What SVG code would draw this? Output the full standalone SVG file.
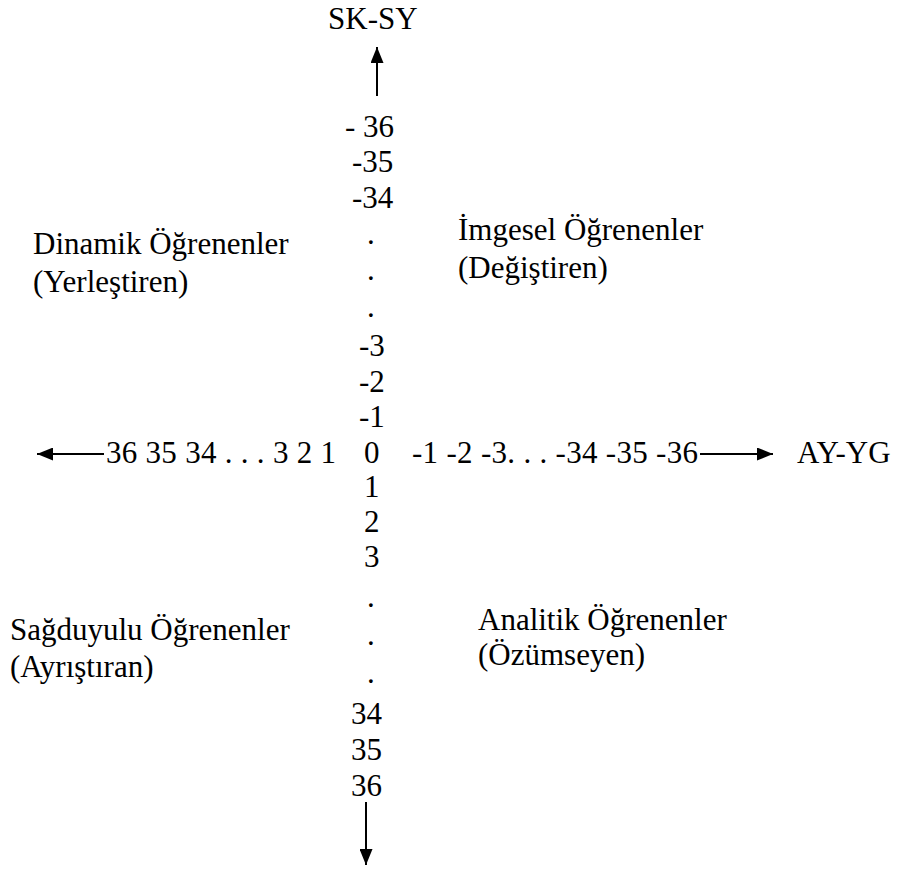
<svg xmlns="http://www.w3.org/2000/svg" width="903" height="869" viewBox="0 0 903 869">
  <style>
    .t { font-family: 'Liberation Serif', 'DejaVu Serif', serif; font-size: 31px; fill: #000; }
    .axis { stroke: #000; stroke-width: 2; fill: none; }
  </style>
  <defs>
    <marker id="head" viewBox="0 0 16 13" refX="16" refY="6.5" markerWidth="16" markerHeight="13" markerUnits="userSpaceOnUse" orient="auto">
      <path d="M0,0 L16,6.5 L0,13 Z" fill="#000"/>
    </marker>
  </defs>

  <rect width="903" height="869" fill="#fff"/>

  <!-- axis arrows -->
  <g id="connectors">
    <line class="axis" x1="377" y1="96" x2="377" y2="47" marker-end="url(#head)"/>
    <line class="axis" x1="366" y1="802" x2="366" y2="865" marker-end="url(#head)"/>
    <line class="axis" x1="104" y1="454" x2="37" y2="454" marker-end="url(#head)"/>
    <line class="axis" x1="700" y1="454" x2="773" y2="454" marker-end="url(#head)"/>
  </g>

  <g class="t">
    <!-- axis end labels -->
    <g id="label-sk-sy"><text x="328" y="29">SK-SY</text></g>
    <g id="label-ay-yg"><text x="797" y="463">AY-YG</text></g>

    <!-- vertical scale -->
    <g id="vertical-scale">
      <text x="345" y="137" xml:space="preserve">- 36</text>
      <text x="352" y="172">-35</text>
      <text x="352" y="208">-34</text>
      <text x="367" y="244">.</text>
      <text x="367" y="280">.</text>
      <text x="367" y="317">.</text>
      <text x="359" y="356">-3</text>
      <text x="359" y="392">-2</text>
      <text x="359" y="427">-1</text>
      <text x="364" y="463">0</text>
      <text x="364" y="497">1</text>
      <text x="364" y="532">2</text>
      <text x="364" y="567">3</text>
      <text x="367" y="607">.</text>
      <text x="367" y="645">.</text>
      <text x="367" y="683">.</text>
      <text x="351" y="724">34</text>
      <text x="351" y="760">35</text>
      <text x="351" y="796">36</text>
    </g>

    <!-- horizontal scale -->
    <g id="horizontal-scale">
      <text x="106" y="463" textLength="230" lengthAdjust="spacing">36 35 34 . . . 3 2 1</text>
      <text x="412" y="463" textLength="286" lengthAdjust="spacing">-1 -2 -3. . . -34 -35 -36</text>
    </g>

    <!-- quadrant labels -->
    <g id="q-dinamik">
      <text x="33" y="254">Dinamik Öğrenenler</text>
      <text x="33" y="292">(Yerleştiren)</text>
    </g>
    <g id="q-imgesel">
      <text x="458" y="240">İmgesel Öğrenenler</text>
      <text x="458" y="278">(Değiştiren)</text>
    </g>
    <g id="q-sagduyulu">
      <text x="10" y="640">Sağduyulu Öğrenenler</text>
      <text x="10" y="677">(Ayrıştıran)</text>
    </g>
    <g id="q-analitik">
      <text x="478" y="630">Analitik Öğrenenler</text>
      <text x="478" y="665">(Özümseyen)</text>
    </g>
  </g>
</svg>
